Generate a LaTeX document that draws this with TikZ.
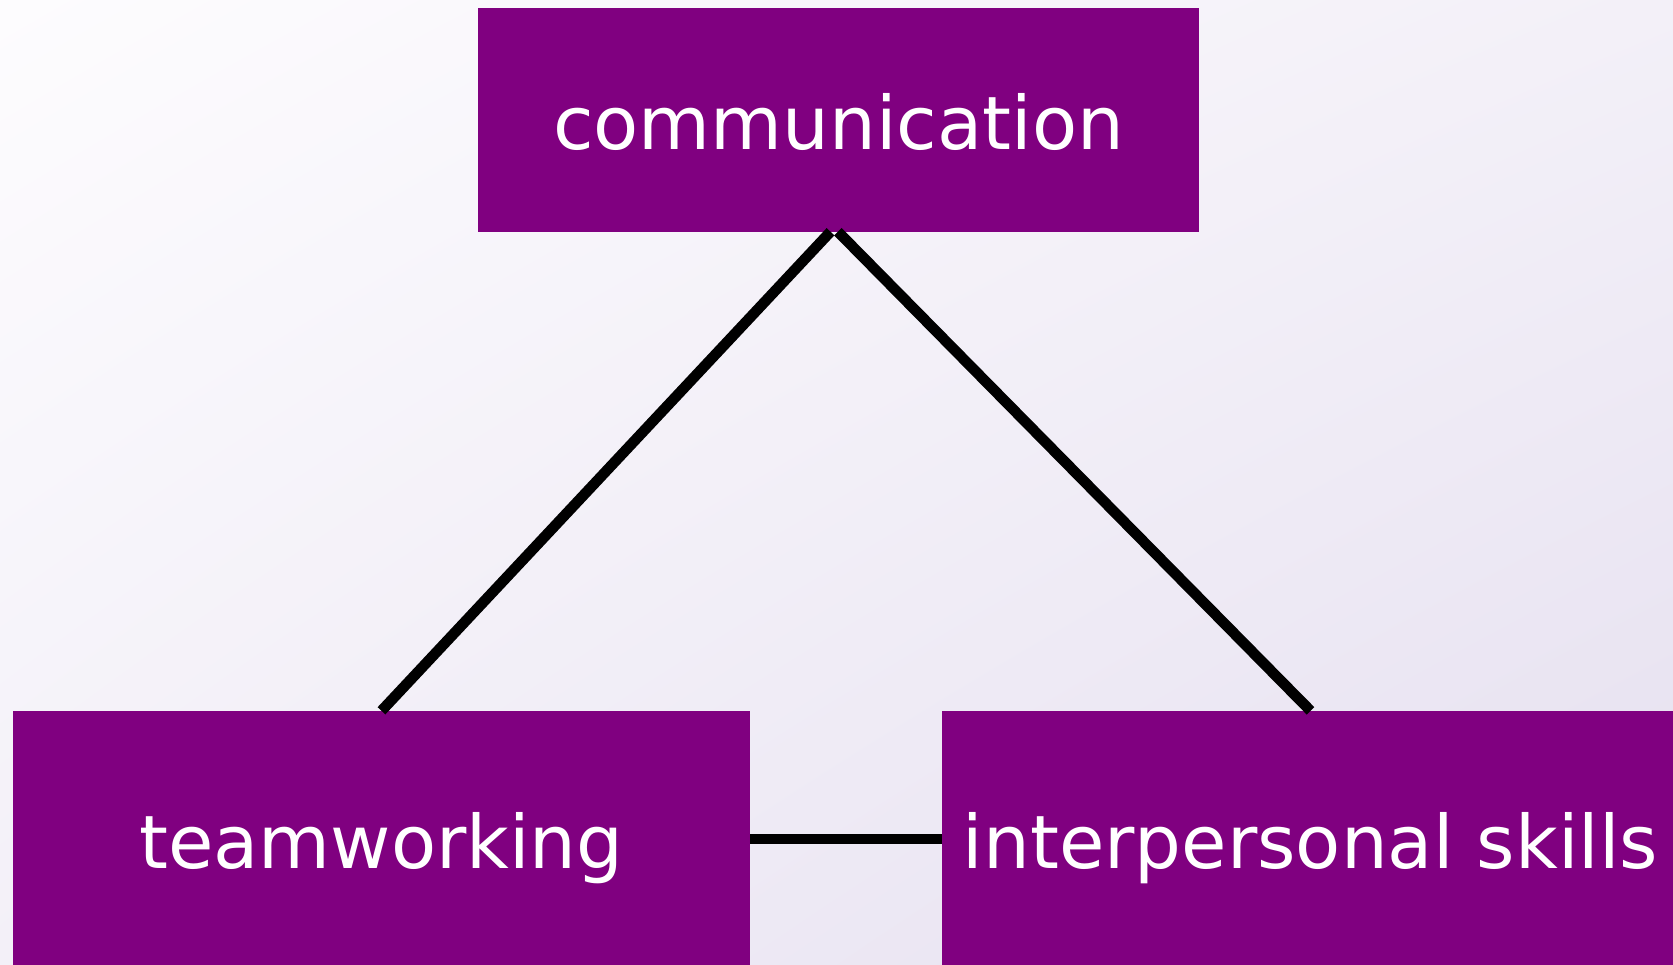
\documentclass[tikz,border=0pt]{standalone}
\usepackage{fontspec}
\setmainfont{DejaVu Sans}
\usetikzlibrary{shadings}
\definecolor{bgtl}{RGB}{253,252,254}
\definecolor{bgmid}{RGB}{243,240,248}
\definecolor{bgbr}{RGB}{229,223,239}
\definecolor{boxpurple}{RGB}{128,0,128}
\tikzset{
  skillbox/.style={fill=boxpurple, draw=none, text=white, inner sep=0pt,
    font=\fontsize{73.8}{90}\selectfont, text height=74pt, text depth=15pt},
  link/.style={draw=black, line width=10.6pt}
}
\begin{document}
\begin{tikzpicture}[x=1pt,y=-1pt]
\useasboundingbox (0,0) rectangle (1673,964);
\shade[upper left=bgtl, upper right=bgmid, lower left=bgmid, lower right=bgbr] (0,0) rectangle (1673,964);
\node[skillbox, minimum width=721pt, minimum height=224pt] (comm) at (838.5,119.5) {communication};
\node[skillbox, minimum width=737pt, minimum height=256pt] (team) at (381.5,839) {teamworking};
\node[skillbox, minimum width=737pt, minimum height=256pt] (inter) at (1310.5,839) {interpersonal skills};
\draw[link] ([xshift=-8pt]comm.south) -- (team.north);
\draw[link] ([xshift=-0.6pt]comm.south) -- (inter.north);
\draw[link] (team.east) -- (inter.west);
\end{tikzpicture}
\end{document}
